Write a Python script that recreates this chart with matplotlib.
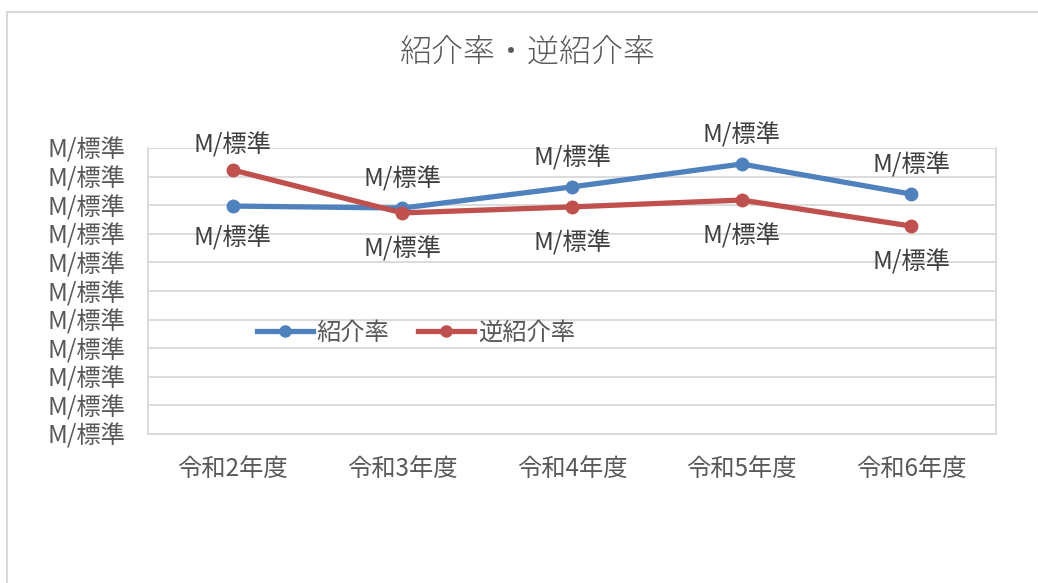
import matplotlib
matplotlib.use("Agg")
import matplotlib.pyplot as plt
from matplotlib.lines import Line2D
from matplotlib.ticker import FixedLocator, FuncFormatter

plt.rcParams['font.family'] = ['Noto Sans CJK JP', 'DejaVu Sans']

categories = ["令和2年度", "令和3年度", "令和4年度", "令和5年度", "令和6年度"]
shokai = [0.797, 0.790, 0.864, 0.944, 0.839]
gyaku = [0.923, 0.773, 0.794, 0.818, 0.727]
yticks = [i / 10 for i in range(11)]
label_text = "M/標準"
shokai_label_pos = ["below", "above", "above", "above", "above"]
gyaku_label_pos = ["above", "below", "below", "below", "below"]

BLUE = "#4F81BD"
RED = "#C0504D"
GRID = "#D9D9D9"
TXT = "#595959"
LBL = "#404040"
FS = 17.5

fig = plt.figure(figsize=(10.38, 5.83), dpi=100)
ax = fig.add_axes([148/1038, 1-434/583, (996-148)/1038, (434-148)/583])

x = list(range(len(categories)))
ax.plot(x, shokai, color=BLUE, lw=3.8, marker='o', ms=9, label="紹介率", solid_capstyle='round', zorder=3)
ax.plot(x, gyaku, color=RED, lw=3.8, marker='o', ms=9, label="逆紹介率", solid_capstyle='round', zorder=3)

for xi, v, pos in zip(x, shokai, shokai_label_pos):
    dy = 20.5 if pos == "above" else -23.5
    ax.annotate(label_text, (xi, v), xytext=(0, dy), textcoords='offset points',
                ha='center', va='center', fontsize=FS, color=LBL, zorder=4)
for xi, v, pos in zip(x, gyaku, gyaku_label_pos):
    dy = 18 if pos == "above" else -26
    ax.annotate(label_text, (xi, v), xytext=(0, dy), textcoords='offset points',
                ha='center', va='center', fontsize=FS, color=LBL, zorder=4)

ax.set_xlim(-0.5, len(categories) - 0.5)
ax.set_ylim(0, 1.0)
ax.yaxis.set_major_locator(FixedLocator(yticks))
ax.yaxis.set_major_formatter(FuncFormatter(lambda v, p: label_text))
ax.set_xticks(x)
ax.set_xticklabels(categories)
ax.grid(axis='y', color=GRID, lw=1.3)
ax.set_axisbelow(True)
ax.spines['top'].set_visible(False)
for s in ['left', 'right', 'bottom']:
    ax.spines[s].set_color(GRID)
    ax.spines[s].set_linewidth(1.3)
ax.tick_params(axis='both', length=0, labelsize=FS, labelcolor=TXT)
ax.tick_params(axis='y', pad=16)
ax.tick_params(axis='x', pad=15.5)

leg = fig.legend(handles=[Line2D([], [], color=BLUE, lw=3.8, marker='o', ms=8),
                          Line2D([], [], color=RED, lw=3.8, marker='o', ms=8)],
                 labels=["紹介率", "逆紹介率"], loc='center',
                 bbox_to_anchor=(416/1038, 1-333/583), ncol=2, frameon=False,
                 fontsize=FS, handlelength=2.3, handletextpad=0.15, columnspacing=1.2)
for t in leg.get_texts():
    t.set_color(TXT)

fig.text(528/1038, 1-53/583, "紹介率・逆紹介率", ha='center', va='center',
         fontsize=23, color=TXT, fontweight='light')

# chart-area border (extends beyond image at right/bottom)
fig.add_artist(Line2D([7/1038, 7/1038], [0, 1-12/583], color=GRID, lw=1.5, transform=fig.transFigure))
fig.add_artist(Line2D([7/1038, 1], [1-12/583, 1-12/583], color=GRID, lw=1.5, transform=fig.transFigure))

fig.savefig("out.png", dpi=100)
